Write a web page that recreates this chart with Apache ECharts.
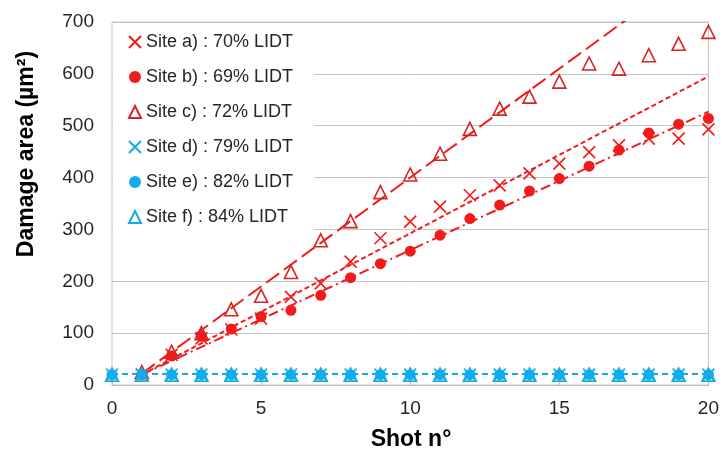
<!DOCTYPE html>
<html>
<head>
<meta charset="utf-8">
<script src="https://cdn.jsdelivr.net/npm/echarts@6/dist/echarts.min.js"></script>
<style>
html,body{margin:0;padding:0;background:#fff;}
#chart{width:722px;height:449px;}
</style>
</head>
<body>
<div id="chart"></div>
<script>
// ---- data ----
var shots = [0,1,2,3,4,5,6,7,8,9,10,11,12,13,14,15,16,17,18,19,20];
var siteA = [null,20,58,90,107,128,170,196,238,283,315,344,366,385,408,427,449,462,475,475,493];
var siteB = [null,20,56,94,108,132,144,173,207,234,258,289,321,347,374,398,422,453,486,503,514];
var siteC = [null,25,64,100,146,172,218,279,316,372,406,446,494,533,556,585,620,610,636,658,681];
var siteD = [20,20,20,20,20,20,20,20,20,20,20,20,20,20,20,20,20,20,20,20,20];
var siteE = [20,20,20,20,20,20,20,20,20,20,20,20,20,20,20,20,20,20,20,20,20];
var siteF = [20,20,20,20,20,20,20,20,20,20,20,20,20,20,20,20,20,20,20,20,20];
// trendline end points (x from trendRedX / trendBlueX)
var trendRedX = [1, 20];
var trendA = [20, 595];
var trendB = [20, 527];
var trendC = [22, 820];
var trendBlueX = [0, 20];
var trendD = [21, 21];
var trendE = [21, 21];
var trendF = [21, 21];
var names = ['Site a) : 70% LIDT','Site b) : 69% LIDT','Site c) : 72% LIDT','Site d) : 79% LIDT','Site e) : 82% LIDT','Site f) : 84% LIDT'];
var xTicks = [0,5,10,15,20];
var yTicks = [0,100,200,300,400,500,600,700];

function pairs(xs, ys){ var out=[]; for(var i=0;i<xs.length;i++){ if(ys[i]!==null) out.push([xs[i], ys[i]]); } return out; }

var RED = '#F21B1B';
var TRI_RED = '#D92323';
var BLUE = '#12ADE8';
var CROSS = 'path://M0,0L10,10M10,0L0,10';
var FONT = '"Liberation Sans", Arial, sans-serif';

function markerSeries(name, data, symbol, size, color, filled){
  return {
    name: name, type: 'scatter', data: pairs(shots, data),
    symbol: symbol, symbolSize: size, z: 3,
    itemStyle: filled ? {color: color, borderWidth: 0, opacity:1}
                      : {color: 'rgba(0,0,0,0)', borderColor: color, borderWidth: 1.6, opacity:1}
  };
}
function trendSeries(xs, ys, color, dash){
  return {
    type: 'line', data: pairs(xs, ys), showSymbol: false, symbol: 'none',
    silent: true, z: 2, clip: true,
    lineStyle: {color: color, width: 2, type: dash}
  };
}

var chart = echarts.init(document.getElementById('chart'), null, {renderer:'canvas'});
chart.setOption({
  animation: false,
  backgroundColor: '#fff',
  textStyle: {fontFamily: FONT},
  grid: {left: 112, right: 12, top: 22, bottom: 64, show: true, borderColor: '#C4C4C4', borderWidth: 1, backgroundColor: '#fff'},
  legend: {
    data: names, orient: 'vertical', left: 113, top: 23,
    backgroundColor: '#fff',
    padding: [10, 21, 12, 15],
    itemWidth: 12, itemHeight: 12, itemGap: 17,
    textStyle: {fontSize: 18, color: '#262626', fontFamily: FONT, lineHeight: 18}
  },
  xAxis: {
    type: 'value', min: 0, max: 20, interval: 5,
    axisLine: {show: true, lineStyle: {color: '#BDBDBD', width: 1}},
    axisTick: {show: true, inside: true, length: 7, lineStyle: {color: '#BDBDBD'}},
    splitLine: {show: false},
    axisLabel: {fontSize: 19, color: '#262626', margin: 14, fontFamily: FONT,
      formatter: function(v){ return xTicks.indexOf(v) >= 0 ? String(v) : ''; }}
  },
  yAxis: {
    type: 'value', min: 0, max: 700, interval: 100,
    axisLine: {show: false}, axisTick: {show: false},
    splitLine: {show: true, lineStyle: {color: '#C4C4C4', width: 1}},
    axisLabel: {fontSize: 19, color: '#262626', margin: 18, fontFamily: FONT,
      formatter: function(v){ return yTicks.indexOf(v) >= 0 ? String(v) : ''; }}
  },
  graphic: [
    {type: 'text', x: 27, y: 154, rotation: Math.PI/2, z: 10,
     style: {text: 'Damage area (µm²)', font: 'bold 23px ' + FONT, fill: '#000', textAlign: 'center', textVerticalAlign: 'middle'}},
    {type: 'text', x: 411, y: 440, z: 10,
     style: {text: 'Shot n°', font: 'bold 23px ' + FONT, fill: '#000', textAlign: 'center', textVerticalAlign: 'middle'}}
  ],
  series: [
    markerSeries(names[0], siteA, CROSS, 12, RED, false),
    markerSeries(names[1], siteB, 'circle', 11, RED, true),
    markerSeries(names[2], siteC, 'triangle', 13, TRI_RED, false),
    markerSeries(names[3], siteD, CROSS, 12, BLUE, false),
    markerSeries(names[4], siteE, 'circle', 11, BLUE, true),
    markerSeries(names[5], siteF, 'triangle', 13, BLUE, false),
    trendSeries(trendRedX, trendA, RED, [5, 3]),
    trendSeries(trendRedX, trendB, RED, [10, 4, 2, 4]),
    trendSeries(trendRedX, trendC, RED, [16, 6]),
    trendSeries(trendBlueX, trendD, BLUE, [6, 4]),
    trendSeries(trendBlueX, trendE, BLUE, [6, 4]),
    trendSeries(trendBlueX, trendF, BLUE, [6, 4])
  ]
});
</script>
</body>
</html>
